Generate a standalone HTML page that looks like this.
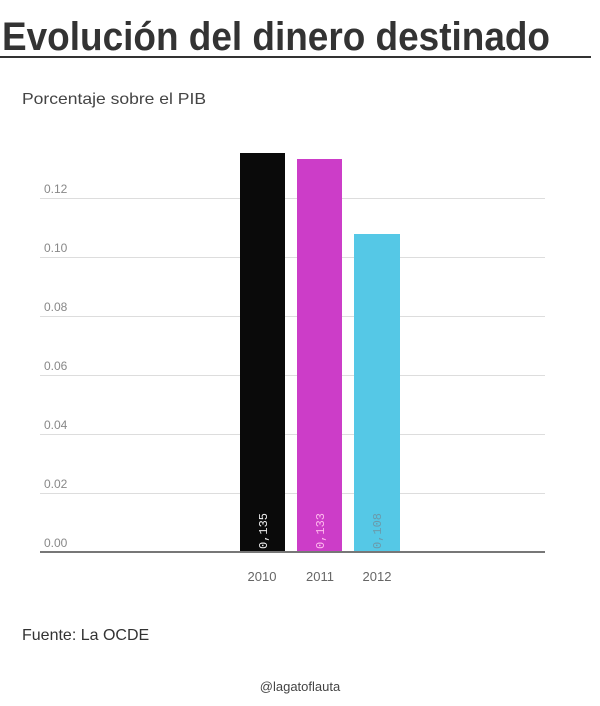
<!DOCTYPE html>
<html><head><meta charset="utf-8"><style>html,body{margin:0;padding:0;background:#fff}</style></head>
<body>
<svg width="600" height="701" xmlns="http://www.w3.org/2000/svg" font-family="Liberation Sans, sans-serif">
<rect width="600" height="701" fill="#fff"/>
<text x="2" y="50" font-size="40" font-weight="bold" fill="#333" textLength="548" lengthAdjust="spacingAndGlyphs">Evolución del dinero destinado</text>
<rect x="0" y="56" width="591" height="2" fill="#333"/>
<text x="22" y="104" font-size="16" fill="#444" textLength="184" lengthAdjust="spacingAndGlyphs">Porcentaje sobre el PIB</text>
<g stroke="#ddd" stroke-width="1">
<line x1="40" x2="545" y1="198.5" y2="198.5"/>
<line x1="40" x2="545" y1="257.5" y2="257.5"/>
<line x1="40" x2="545" y1="316.5" y2="316.5"/>
<line x1="40" x2="545" y1="375.5" y2="375.5"/>
<line x1="40" x2="545" y1="434.5" y2="434.5"/>
<line x1="40" x2="545" y1="493.5" y2="493.5"/>
</g>
<g font-size="12" fill="#888">
<text x="44" y="193">0.12</text>
<text x="44" y="252">0.10</text>
<text x="44" y="311">0.08</text>
<text x="44" y="370">0.06</text>
<text x="44" y="429">0.04</text>
<text x="44" y="488">0.02</text>
<text x="44" y="547">0.00</text>
</g>
<rect x="240" y="153" width="45" height="399" fill="#0a0a0a"/>
<rect x="297" y="159" width="45" height="393" fill="#cc3dc8"/>
<rect x="354" y="234" width="46" height="318" fill="#55c8e6"/>
<line x1="40" x2="545" y1="552" y2="552" stroke="#777" stroke-width="2"/>
<g font-size="12" font-family="Liberation Mono, monospace">
<text transform="translate(267,549) rotate(-90)" fill="#eee">0,135</text>
<text transform="translate(324,549) rotate(-90)" fill="#fbe">0,133</text>
<text transform="translate(381,549) rotate(-90)" fill="#6a9aab">0,108</text>
</g>
<g font-size="13" fill="#666" text-anchor="middle">
<text x="262" y="581">2010</text>
<text x="320" y="581">2011</text>
<text x="377" y="581">2012</text>
</g>
<text x="22" y="640" font-size="16" fill="#333">Fuente: La OCDE</text>
<text x="300" y="691" font-size="13" fill="#444" text-anchor="middle">@lagatoflauta</text>
</svg>
</body></html>
